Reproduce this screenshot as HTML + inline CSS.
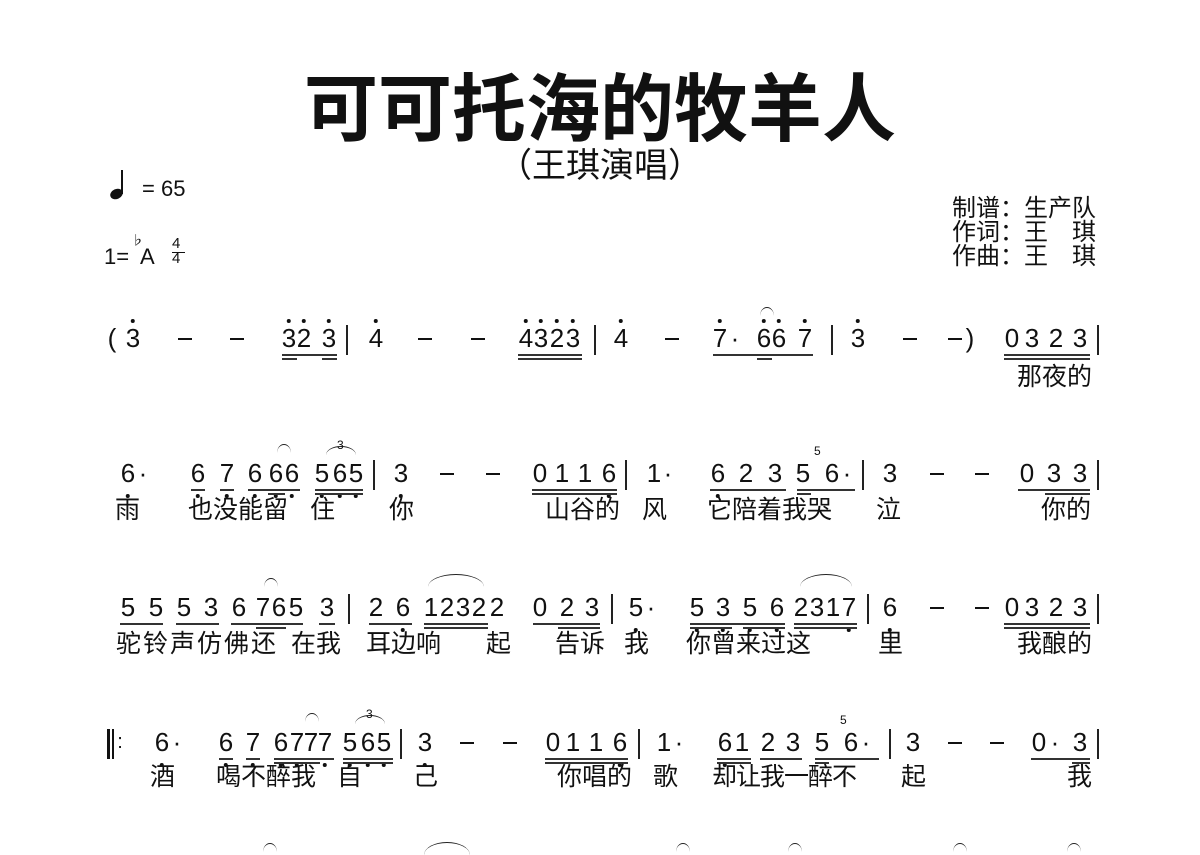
<!DOCTYPE html><html><head><meta charset="utf-8"><style>
body{margin:0;width:1200px;height:850px;background:#fff;position:relative;overflow:hidden;font-family:"Liberation Sans","Noto Sans CJK SC",sans-serif;color:#111}
.a{position:absolute}
.n{position:absolute;font-size:26px;line-height:1;transform:translateX(-50%)}
.h::before{content:"";position:absolute;left:50%;top:-6px;width:4px;height:4px;margin-left:-2px;border-radius:50%;background:#111}
.l::after{content:"";position:absolute;left:50%;top:34px;width:4px;height:4px;margin-left:-2px;border-radius:50%;background:#111}
.ly{position:absolute;font-size:25px;line-height:1;white-space:nowrap}
i{position:absolute;height:1.5px;background:#333;display:block}
.b{position:absolute;width:1.5px;height:30px;background:#222}
.d{position:absolute;width:14px;height:2px;background:#111}
.s{position:absolute;height:8px;border-top:1.5px solid #222;border-radius:50%/100% 100% 0 0}
.t{position:absolute;font-size:12px}
</style></head><body>
<div class="a" style="left:0;width:1200px;top:68px;text-align:center;font-size:74px;font-weight:bold;line-height:84px">可可托海的牧羊人</div>
<div class="a" style="left:0;width:1200px;top:147px;text-align:center;font-size:34px;line-height:38px">（王琪演唱）</div>
<div class="a" style="left:110px;top:189px;width:13px;height:10px;border-radius:50%;background:#111;transform:rotate(-25deg)"></div>
<div class="a" style="left:121px;top:170px;width:2px;height:24px;background:#111"></div>
<div class="a" style="left:142px;top:176px;font-size:22px">= 65</div>
<div class="a" style="left:104px;top:244px;font-size:22px">1=</div>
<div class="a" style="left:131px;top:230px;font-size:13px">♭</div>
<div class="a" style="left:140px;top:244px;font-size:22px">A</div>
<div class="a" style="left:172px;top:236px;font-size:15px;line-height:15px;text-align:center">4<br>4</div>
<div class="a" style="left:172px;top:252px;width:13px;height:1px;background:#111"></div>
<div class="a" style="left:952px;top:197px;font-size:24px;line-height:24px;white-space:nowrap">制谱：生产队<br>作词：王　琪<br>作曲：王　琪</div>

<!-- Row 1 -->
<div class="a" style="left:0;top:325px">
<span class="n" style="left:112px">(</span><span class="n h" style="left:133px">3</span>
<div class="d" style="left:178px;top:13px"></div><div class="d" style="left:230px;top:13px"></div>
<span class="n h" style="left:289px">3</span><span class="n h" style="left:304px">2</span><span class="n h" style="left:329px">3</span>
<i style="left:282px;width:55px;top:29px"></i><i style="left:282px;width:15px;top:33px"></i><i style="left:322px;width:15px;top:33px"></i>
<div class="b" style="left:346px;top:0"></div>
<span class="n h" style="left:376px">4</span>
<div class="d" style="left:418px;top:13px"></div><div class="d" style="left:471px;top:13px"></div>
<span class="n h" style="left:526px">4</span><span class="n h" style="left:541px">3</span><span class="n h" style="left:557px">2</span><span class="n h" style="left:573px">3</span>
<i style="left:518px;width:64px;top:29px"></i><i style="left:518px;width:64px;top:33px"></i>
<div class="b" style="left:594px;top:0"></div>
<span class="n h" style="left:621px">4</span>
<div class="d" style="left:665px;top:13px"></div>
<span class="n h" style="left:720px">7</span><span class="n" style="left:735px">·</span><span class="n h" style="left:764px">6</span><span class="n h" style="left:779px">6</span><span class="n h" style="left:805px">7</span>
<i style="left:713px;width:100px;top:29px"></i><i style="left:757px;width:15px;top:33px"></i>
<div class="s" style="left:760px;top:-18px;width:14px"></div>
<div class="b" style="left:831px;top:0"></div>
<span class="n h" style="left:858px">3</span>
<div class="d" style="left:903px;top:13px"></div><div class="d" style="left:948px;top:13px"></div><span class="n" style="left:970px">)</span>
<span class="n" style="left:1012px">0</span><span class="n" style="left:1032px">3</span><span class="n" style="left:1056px">2</span><span class="n" style="left:1080px">3</span>
<i style="left:1004px;width:86px;top:29px"></i><i style="left:1004px;width:86px;top:33px"></i>
<div class="b" style="left:1097px;top:0"></div>
</div>
<div class="ly" style="left:1017px;top:365px">那夜的</div>

<!-- Row 2 -->
<div class="a" style="left:0;top:460px">
<span class="n l" style="left:128px">6</span><span class="n" style="left:143px">·</span>
<span class="n l" style="left:198px">6</span><span class="n l" style="left:227px">7</span><span class="n l" style="left:255px">6</span><span class="n l" style="left:276px">6</span><span class="n l" style="left:292px">6</span><span class="n l" style="left:322px">5</span><span class="n l" style="left:340px">6</span><span class="n l" style="left:356px">5</span>
<i style="left:191px;width:14px;top:29px"></i><i style="left:220px;width:14px;top:29px"></i><i style="left:248px;width:52px;top:29px"></i><i style="left:268px;width:17px;top:33px"></i><i style="left:315px;width:48px;top:29px"></i><i style="left:315px;width:48px;top:33px"></i>
<div class="s" style="left:277px;top:-16px;width:14px"></div>
<div class="s" style="left:326px;top:-14px;width:30px"></div><span class="t" style="left:337px;top:-22px">3</span>
<div class="b" style="left:373px;top:0"></div>
<span class="n l" style="left:401px">3</span>
<div class="d" style="left:440px;top:13px"></div><div class="d" style="left:486px;top:13px"></div>
<span class="n" style="left:540px">0</span><span class="n" style="left:562px">1</span><span class="n" style="left:585px">1</span><span class="n l" style="left:609px">6</span>
<i style="left:532px;width:85px;top:29px"></i><i style="left:532px;width:85px;top:33px"></i>
<div class="b" style="left:625px;top:0"></div>
<span class="n" style="left:654px">1</span><span class="n" style="left:668px">·</span>
<span class="n l" style="left:718px">6</span><span class="n" style="left:746px">2</span><span class="n" style="left:775px">3</span><span class="n" style="left:803px">5</span><span class="n" style="left:832px">6</span><span class="n" style="left:847px">·</span>
<i style="left:710px;width:76px;top:29px"></i><i style="left:797px;width:58px;top:29px"></i><i style="left:797px;width:14px;top:33px"></i>
<span class="t" style="left:814px;top:-16px">5</span>
<div class="b" style="left:862px;top:0"></div>
<span class="n" style="left:890px">3</span>
<div class="d" style="left:930px;top:13px"></div><div class="d" style="left:975px;top:13px"></div>
<span class="n" style="left:1027px">0</span><span class="n" style="left:1054px">3</span><span class="n" style="left:1080px">3</span>
<i style="left:1018px;width:72px;top:29px"></i><i style="left:1045px;width:45px;top:33px"></i>
<div class="b" style="left:1097px;top:0"></div>
</div>
<div class="ly" style="left:115px;top:498px">雨</div>
<div class="ly" style="left:188px;top:498px">也没能留</div>
<div class="ly" style="left:310px;top:498px">住</div>
<div class="ly" style="left:389px;top:498px">你</div>
<div class="ly" style="left:545px;top:498px">山谷的</div>
<div class="ly" style="left:642px;top:498px">风</div>
<div class="ly" style="left:707px;top:498px">它陪着我哭</div>
<div class="ly" style="left:876px;top:498px">泣</div>
<div class="ly" style="left:1041px;top:498px">你的</div>

<!-- Row 3 -->
<div class="a" style="left:0;top:594px">
<span class="n" style="left:128px">5</span><span class="n" style="left:156px">5</span><span class="n" style="left:184px">5</span><span class="n" style="left:211px">3</span><span class="n" style="left:239px">6</span><span class="n" style="left:263px">7</span><span class="n" style="left:279px">6</span><span class="n" style="left:296px">5</span><span class="n" style="left:327px">3</span>
<i style="left:120px;width:43px;top:29px"></i><i style="left:176px;width:43px;top:29px"></i><i style="left:231px;width:72px;top:29px"></i><i style="left:256px;width:30px;top:33px"></i><i style="left:319px;width:16px;top:29px"></i>
<div class="s" style="left:264px;top:-16px;width:14px"></div>
<div class="b" style="left:348px;top:0"></div>
<span class="n" style="left:376px">2</span><span class="n l" style="left:403px">6</span><span class="n" style="left:431px">1</span><span class="n" style="left:447px">2</span><span class="n" style="left:463px">3</span><span class="n" style="left:479px">2</span><span class="n" style="left:497px">2</span>
<i style="left:369px;width:43px;top:29px"></i><i style="left:424px;width:64px;top:29px"></i><i style="left:424px;width:64px;top:33px"></i>
<div class="s" style="left:428px;top:-20px;width:56px;height:12px"></div>
<span class="n" style="left:540px">0</span><span class="n" style="left:567px">2</span><span class="n" style="left:592px">3</span>
<i style="left:533px;width:67px;top:29px"></i><i style="left:558px;width:42px;top:33px"></i>
<div class="b" style="left:611px;top:0"></div>
<span class="n l" style="left:636px">5</span><span class="n" style="left:651px">·</span>
<span class="n l" style="left:697px">5</span><span class="n l" style="left:723px">3</span><span class="n l" style="left:750px">5</span><span class="n l" style="left:777px">6</span><span class="n" style="left:801px">2</span><span class="n" style="left:817px">3</span><span class="n" style="left:833px">1</span><span class="n l" style="left:849px">7</span>
<i style="left:690px;width:95px;top:29px"></i><i style="left:690px;width:42px;top:33px"></i><i style="left:743px;width:42px;top:33px"></i><i style="left:794px;width:63px;top:29px"></i><i style="left:794px;width:63px;top:33px"></i>
<div class="s" style="left:800px;top:-20px;width:52px;height:12px"></div>
<div class="b" style="left:867px;top:0"></div>
<span class="n l" style="left:890px">6</span>
<div class="d" style="left:930px;top:13px"></div><div class="d" style="left:975px;top:13px"></div>
<span class="n" style="left:1012px">0</span><span class="n" style="left:1032px">3</span><span class="n" style="left:1056px">2</span><span class="n" style="left:1080px">3</span>
<i style="left:1004px;width:86px;top:29px"></i><i style="left:1004px;width:86px;top:33px"></i>
<div class="b" style="left:1097px;top:0"></div>
</div>
<div class="ly" style="left:116px;top:632px;letter-spacing:2px">驼铃声仿佛还</div>
<div class="ly" style="left:291px;top:632px">在我</div>
<div class="ly" style="left:366px;top:632px">耳边响</div>
<div class="ly" style="left:486px;top:632px">起</div>
<div class="ly" style="left:555px;top:632px">告诉</div>
<div class="ly" style="left:624px;top:632px">我</div>
<div class="ly" style="left:686px;top:632px">你曾来过这</div>
<div class="ly" style="left:878px;top:632px">里</div>
<div class="ly" style="left:1017px;top:632px">我酿的</div>

<!-- Row 4 -->
<div class="a" style="left:0;top:729px">
<div class="a" style="left:107px;top:0;width:3px;height:30px;background:#111"></div><div class="a" style="left:112px;top:0;width:1.5px;height:30px;background:#111"></div>
<span class="n" style="left:120px;font-size:20px;top:3px">:</span>
<span class="n l" style="left:162px">6</span><span class="n" style="left:177px">·</span>
<span class="n l" style="left:226px">6</span><span class="n l" style="left:253px">7</span><span class="n l" style="left:281px">6</span><span class="n l" style="left:297px">7</span><span class="n" style="left:311px">7</span><span class="n l" style="left:325px">7</span><span class="n l" style="left:350px">5</span><span class="n l" style="left:368px">6</span><span class="n l" style="left:384px">5</span>
<i style="left:219px;width:14px;top:29px"></i><i style="left:246px;width:14px;top:29px"></i><i style="left:274px;width:60px;top:29px"></i><i style="left:274px;width:46px;top:33px"></i><i style="left:343px;width:50px;top:29px"></i><i style="left:343px;width:50px;top:33px"></i>
<div class="s" style="left:305px;top:-16px;width:14px"></div>
<div class="s" style="left:355px;top:-14px;width:30px"></div><span class="t" style="left:366px;top:-22px">3</span>
<div class="b" style="left:400px;top:0"></div>
<span class="n l" style="left:425px">3</span>
<div class="d" style="left:460px;top:13px"></div><div class="d" style="left:503px;top:13px"></div>
<span class="n" style="left:553px">0</span><span class="n" style="left:573px">1</span><span class="n" style="left:596px">1</span><span class="n l" style="left:620px">6</span>
<i style="left:545px;width:83px;top:29px"></i><i style="left:545px;width:83px;top:33px"></i>
<div class="b" style="left:638px;top:0"></div>
<span class="n" style="left:664px">1</span><span class="n" style="left:679px">·</span>
<span class="n l" style="left:725px">6</span><span class="n" style="left:742px">1</span><span class="n" style="left:768px">2</span><span class="n" style="left:793px">3</span><span class="n" style="left:822px">5</span><span class="n" style="left:851px">6</span><span class="n" style="left:866px">·</span>
<i style="left:717px;width:34px;top:29px"></i><i style="left:717px;width:34px;top:33px"></i><i style="left:760px;width:42px;top:29px"></i><i style="left:815px;width:64px;top:29px"></i><i style="left:815px;width:14px;top:33px"></i>
<span class="t" style="left:840px;top:-16px">5</span>
<div class="b" style="left:889px;top:0"></div>
<span class="n" style="left:913px">3</span>
<div class="d" style="left:948px;top:13px"></div><div class="d" style="left:990px;top:13px"></div>
<span class="n" style="left:1039px">0</span><span class="n" style="left:1055px">·</span><span class="n" style="left:1080px">3</span>
<i style="left:1031px;width:59px;top:29px"></i><i style="left:1072px;width:18px;top:33px"></i>
<div class="b" style="left:1097px;top:0"></div>
</div>
<div class="ly" style="left:150px;top:765px">酒</div>
<div class="ly" style="left:216px;top:765px">喝不醉我</div>
<div class="ly" style="left:337px;top:765px">自</div>
<div class="ly" style="left:413px;top:765px">己</div>
<div class="ly" style="left:557px;top:765px">你唱的</div>
<div class="ly" style="left:653px;top:765px">歌</div>
<div class="ly" style="left:712px;top:765px;letter-spacing:-1px">却让我一醉不</div>
<div class="ly" style="left:901px;top:765px">起</div>
<div class="ly" style="left:1067px;top:765px">我</div>

<!-- Row 5 partial slurs -->
<div class="s" style="left:263px;top:843px;width:14px"></div>
<div class="s" style="left:424px;top:842px;width:46px;height:12px"></div>
<div class="s" style="left:676px;top:843px;width:14px"></div>
<div class="s" style="left:788px;top:843px;width:14px"></div>
<div class="s" style="left:953px;top:843px;width:14px"></div>
<div class="s" style="left:1067px;top:843px;width:14px"></div>
</body></html>
